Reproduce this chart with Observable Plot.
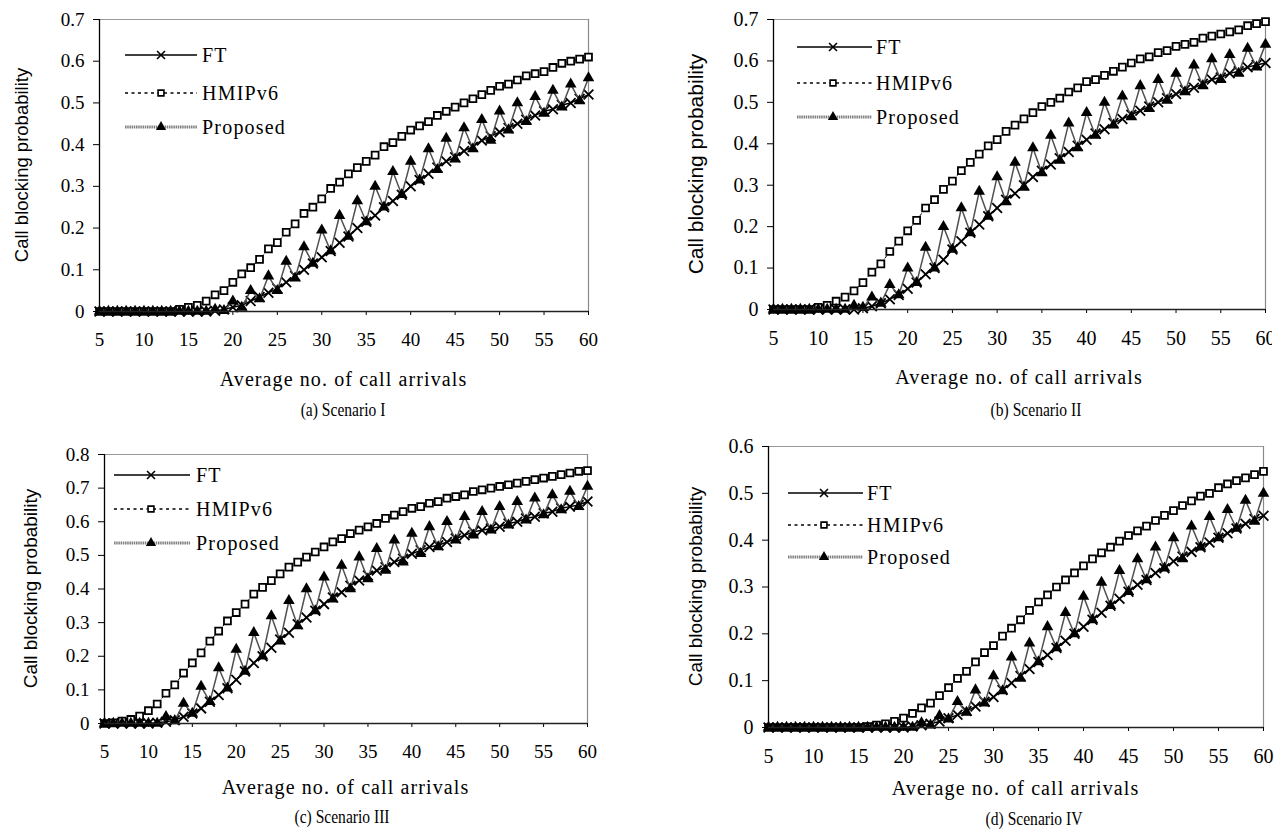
<!DOCTYPE html>
<html>
<head>
<meta charset="utf-8">
<script src="https://cdn.jsdelivr.net/npm/d3@7"></script>
<script src="https://cdn.jsdelivr.net/npm/@observablehq/plot@0.6"></script>
<style>
  html, body { margin: 0; padding: 0; background: #fff; overflow: hidden; }
  #root { position: relative; width: 1283px; height: 832px; overflow: hidden; background: #fff; }
  #edge { position: absolute; left: 1272px; top: 0; width: 11px; height: 420px; background: #fff; }
</style>
</head>
<body>
<div id="root"></div>
<script>
// ---------- DATA ----------
const arrivals = [5,6,7,8,9,10,11,12,13,14,15,16,17,18,19,20,21,22,23,24,25,26,27,28,29,30,31,32,33,34,35,36,37,38,39,40,41,42,43,44,45,46,47,48,49,50,51,52,53,54,55,56,57,58,59,60];
const xTickValues = [5,10,15,20,25,30,35,40,45,50,55,60];
const yTicks06 = [0,0.1,0.2,0.3,0.4,0.5,0.6];
const yTicks07 = [0,0.1,0.2,0.3,0.4,0.5,0.6,0.7];
const yTicks08 = [0,0.1,0.2,0.3,0.4,0.5,0.6,0.7,0.8];
const seriesNames = ["FT", "HMIPv6", "Proposed"];
const captions = ["(a) Scenario I", "(b) Scenario II", "(c) Scenario III", "(d) Scenario IV"];
const xTitle = "Average no. of call arrivals";
const yTitle = "Call blocking probability";

// Scenario I
const ftA = [0,0,0,0,0,0,0,0,0,0,0,0,0, 0.002,0.005,0.01,0.015,0.025,0.035,0.045,0.055,0.07,0.085, 0.10,0.115,0.13,0.145,0.165,0.18,0.20,0.215,0.23,0.25, 0.265,0.28,0.30,0.315,0.33,0.345,0.36,0.37,0.385,0.395, 0.41,0.42,0.43,0.44,0.45,0.46,0.47,0.48,0.485,0.495, 0.50,0.51,0.52];
const hmipA = [0,0,0,0,0,0,0,0,0, 0.005,0.01,0.015,0.025,0.04,0.05, 0.07,0.09,0.105,0.125,0.15,0.165,0.19,0.21,0.235,0.25, 0.27,0.295,0.31,0.33,0.345,0.36,0.375,0.395,0.405,0.42, 0.435,0.445,0.455,0.47,0.48,0.49,0.50,0.51,0.52,0.53, 0.54,0.545,0.555,0.565,0.57,0.575,0.585,0.595,0.60,0.605, 0.61];
const propA = [0,0,0,0,0,0,0,0,0,0,0,0,0, 0.005,0.002, 0.025,0.01,0.05,0.03,0.085,0.05,0.12,0.08,0.155,0.115, 0.195,0.145,0.23,0.18,0.265,0.215,0.30,0.25,0.335,0.28, 0.36,0.315,0.39,0.34,0.415,0.365,0.44,0.39,0.46,0.41, 0.48,0.435,0.50,0.455,0.515,0.475,0.53,0.49,0.545,0.505, 0.56];

// Scenario II
const ftB = [0,0,0,0,0,0,0,0,0,0, 0.003,0.008,0.015,0.025,0.035, 0.05,0.065,0.085,0.10,0.12,0.145,0.165,0.185,0.205,0.225, 0.245,0.265,0.28,0.30,0.32,0.335,0.35,0.365,0.38,0.395, 0.41,0.425,0.435,0.45,0.46,0.47,0.48,0.49,0.50,0.51, 0.52,0.53,0.535,0.545,0.555,0.56,0.57,0.575,0.585,0.59, 0.595];
const hmipB = [0,0,0,0,0, 0.005,0.01,0.02,0.03,0.045,0.065,0.09,0.11,0.14,0.165, 0.19,0.215,0.245,0.265,0.29,0.31,0.335,0.355,0.375,0.395, 0.41,0.43,0.445,0.46,0.475,0.49,0.50,0.51,0.525,0.535, 0.55,0.555,0.565,0.575,0.585,0.595,0.605,0.61,0.62,0.625, 0.635,0.64,0.645,0.655,0.66,0.665,0.67,0.675,0.685,0.69, 0.695];
const propB = [0,0,0,0,0,0,0,0,0, 0.01,0.005,0.03,0.015,0.06,0.035, 0.10,0.065,0.15,0.10,0.20,0.145,0.245,0.185,0.285,0.225, 0.32,0.26,0.355,0.295,0.39,0.33,0.42,0.36,0.45,0.39, 0.475,0.42,0.50,0.445,0.515,0.465,0.54,0.485,0.555,0.505, 0.57,0.525,0.59,0.54,0.605,0.555,0.615,0.57,0.63,0.585, 0.64];

// Scenario III
const ftC = [0,0,0,0,0,0, 0.002,0.005,0.01,0.02,0.03,0.045,0.065,0.085,0.105, 0.13,0.155,0.18,0.20,0.225,0.25,0.27,0.295,0.315,0.335, 0.355,0.375,0.39,0.41,0.425,0.44,0.455,0.465,0.48,0.49, 0.505,0.515,0.525,0.53,0.54,0.55,0.56,0.57,0.575,0.58, 0.585,0.595,0.60,0.61,0.615,0.625,0.63,0.64,0.645,0.65, 0.66];
const hmipC = [0,0.002,0.007,0.012,0.022, 0.038,0.058,0.09,0.115,0.15,0.18,0.21,0.245,0.275,0.305, 0.33,0.355,0.385,0.405,0.425,0.445,0.465,0.48,0.495,0.51, 0.525,0.54,0.55,0.565,0.575,0.585,0.595,0.61,0.62,0.63, 0.64,0.645,0.655,0.66,0.67,0.675,0.68,0.69,0.695,0.70, 0.705,0.71,0.715,0.72,0.725,0.73,0.735,0.74,0.745,0.75, 0.752];
const propC = [0,0,0,0,0,0,0, 0.02,0.008,0.06,0.03,0.11,0.065,0.165,0.105, 0.22,0.155,0.27,0.20,0.32,0.245,0.365,0.29,0.40,0.335, 0.435,0.37,0.47,0.40,0.495,0.43,0.52,0.455,0.545,0.48, 0.565,0.505,0.585,0.525,0.60,0.545,0.615,0.56,0.63,0.575, 0.645,0.59,0.66,0.605,0.67,0.62,0.68,0.635,0.69,0.645, 0.705];

// Scenario IV
const ftD = [0,0,0,0,0,0,0,0,0,0,0,0,0,0,0,0, 0.002,0.005,0.008,0.013,0.02,0.027,0.035,0.045,0.055, 0.065,0.08,0.095,0.11,0.125,0.14,0.155,0.17,0.185,0.20, 0.215,0.23,0.245,0.26,0.275,0.29,0.305,0.315,0.33,0.34, 0.355,0.365,0.375,0.385,0.395,0.405,0.415,0.425,0.435,0.445, 0.452];
const hmipD = [0,0,0,0,0,0,0,0,0,0,0, 0.002,0.005,0.008,0.013, 0.02,0.03,0.042,0.052,0.068,0.085,0.105,0.12,0.14,0.16, 0.175,0.195,0.212,0.23,0.25,0.268,0.283,0.30,0.315,0.33, 0.345,0.36,0.373,0.385,0.398,0.41,0.42,0.43,0.442,0.453, 0.463,0.474,0.484,0.494,0.50,0.512,0.52,0.527,0.533,0.54, 0.547];
const propD = [0,0,0,0,0,0,0,0,0,0,0,0,0,0,0,0,0, 0.01,0.005,0.025,0.018,0.055,0.032,0.08,0.052, 0.11,0.078,0.15,0.105,0.18,0.14,0.215,0.17,0.245,0.20, 0.28,0.23,0.31,0.26,0.335,0.29,0.36,0.315,0.385,0.34, 0.405,0.36,0.43,0.385,0.45,0.405,0.465,0.425,0.485,0.44, 0.50];

// ---------- LAYOUT ----------
const panels = [
  { ox: 0,   oy: 0,   W: 641, H: 420, left: 99,  right: 588,  top: 19,  bottom: 311, yMax: 0.7, yTicks: yTicks07,
    ft: ftA, hmip: hmipA, prop: propA, caption: captions[0],
    tickFont: 19, titleFont: 18.5, titleX: 21, xLabelY: 386, capX: 343, capY: 416,
    leg: { x1: 125, x2: 197, xm: 161, xt: 202, ys: [55, 93, 127] } },
  { ox: 641, oy: 0,   W: 642, H: 420, left: 773, right: 1265, top: 19,  bottom: 309, yMax: 0.7, yTicks: yTicks07,
    ft: ftB, hmip: hmipB, prop: propB, caption: captions[1],
    tickFont: 20, titleFont: 21, titleX: 695, xLabelY: 384, capX: 1036, capY: 416,
    leg: { x1: 797, x2: 872, xm: 833, xt: 876, ys: [47, 83, 117] } },
  { ox: 0,   oy: 420, W: 641, H: 412, left: 104, right: 587,  top: 454, bottom: 723, yMax: 0.8, yTicks: yTicks08,
    ft: ftC, hmip: hmipC, prop: propC, caption: captions[2],
    tickFont: 19, titleFont: 19, titleX: 30, xLabelY: 794, capX: 342, capY: 823,
    leg: { x1: 114, x2: 190, xm: 151, xt: 196, ys: [475, 509, 543] } },
  { ox: 641, oy: 420, W: 642, H: 412, left: 768, right: 1263, top: 446, bottom: 727, yMax: 0.6, yTicks: yTicks06,
    ft: ftD, hmip: hmipD, prop: propD, caption: captions[3],
    tickFont: 20, titleFont: 19, titleX: 695, xLabelY: 795, capX: 1034, capY: 825,
    leg: { x1: 788, x2: 863, xm: 824, xt: 867, ys: [493, 525, 557] } }
];

const serif = '"Liberation Serif", "Times New Roman", serif';
const sans = '"Liberation Sans", Arial, sans-serif';
const R = { ft: 4.5, hmip: 3.9, prop: 4.3 };
const propStroke = "#505050";

const root = document.getElementById("root");

function drawPanel(p) {
  const rows = s => arrivals.map((a, i) => ({ x: a, y: s[i] }));
  const ft = rows(p.ft), hm = rows(p.hmip), pr = rows(p.prop);
  const svg = Plot.plot({
    width: p.W, height: p.H,
    marginLeft: p.left - p.ox, marginRight: p.ox + p.W - p.right,
    marginTop: p.top - p.oy, marginBottom: p.oy + p.H - p.bottom,
    style: { background: "transparent", overflow: "visible", fontFamily: serif, fontSize: p.tickFont + "px", color: "#000" },
    x: { domain: [5, 60], ticks: xTickValues, tickSize: 4, tickPadding: 17, label: null, tickFormat: d => String(d) },
    y: { domain: [0, p.yMax], ticks: p.yTicks, tickSize: 6, tickPadding: 9, label: null, tickFormat: d => d === 0 ? "0" : d.toFixed(1) },
    marks: [
      Plot.ruleY([p.yMax], { stroke: "#9a9a9a", strokeWidth: 1.2 }),
      Plot.ruleX([60], { stroke: "#8a8a8a", strokeWidth: 1.2 }),
      Plot.line(ft, { x: "x", y: "y", stroke: "#000", strokeWidth: 1.5 }),
      Plot.dot(ft, { x: "x", y: "y", symbol: "times", r: R.ft, fill: "none", stroke: "#000", strokeWidth: 1.8 }),
      Plot.line(hm, { x: "x", y: "y", stroke: "#000", strokeWidth: 1, strokeDasharray: "2.5,2.5" }),
      Plot.dot(hm, { x: "x", y: "y", symbol: "square", r: R.hmip, fill: "#fff", stroke: "#000", strokeWidth: 1.8 }),
      Plot.line(pr, { x: "x", y: "y", stroke: propStroke, strokeWidth: 1.5 }),
      Plot.dot(pr, { x: "x", y: "y", symbol: "triangle", r: R.prop, fill: "#000", stroke: "none" }),
      Plot.ruleX([5], { stroke: "#000", strokeWidth: 1.3 }),
      Plot.ruleY([0], { stroke: "#222", strokeWidth: 1.3 })
    ]
  });
  svg.setAttribute("font-family", serif);
  svg.style.position = "absolute";
  svg.style.left = p.ox + "px";
  svg.style.top = p.oy + "px";
  root.appendChild(svg);

  // force serif tick labels
  d3.select(svg).selectAll("text").style("font-family", serif).style("font-size", p.tickFont + "px");

  const g = d3.select(svg).append("g").attr("transform", `translate(${-p.ox},${-p.oy})`);
  const cx = (p.left + p.right) / 2, cy = (p.top + p.bottom) / 2;

  // y title
  g.append("text")
    .attr("transform", `translate(${p.titleX},${cy}) rotate(-90)`)
    .attr("text-anchor", "middle").attr("dominant-baseline", "central")
    .style("font-family", sans).style("font-size", p.titleFont + "px").attr("fill", "#000")
    .text(yTitle);
  // x title
  g.append("text")
    .attr("x", cx).attr("y", p.xLabelY).attr("text-anchor", "middle")
    .style("font-family", serif).style("font-size", "20px").style("letter-spacing", "1.1px").attr("fill", "#000")
    .text(xTitle);
  // caption (condensed serif)
  g.append("text")
    .attr("transform", `translate(${p.capX},${p.capY}) scale(0.82,1)`)
    .attr("text-anchor", "middle")
    .style("font-family", serif).style("font-size", "19px").attr("fill", "#000")
    .text(p.caption);

  // legend
  const L = p.leg;
  const styles = [
    { stroke: "#000", width: 1.4, dash: null, sym: d3.symbolTimes, r: 3.7, fill: "none", symStroke: "#000" },
    { stroke: "#000", width: 1.5, dash: "3,3.5", sym: d3.symbolSquare, r: 3.3, fill: "#fff", symStroke: "#000" },
    { stroke: "#808080", width: 3, dash: "1.5,0.7", sym: d3.symbolTriangle, r: 3.8, fill: "#000", symStroke: "none" }
  ];
  seriesNames.forEach((name, i) => {
    const s = styles[i], y = L.ys[i];
    const ln = g.append("line").attr("x1", L.x1).attr("x2", L.x2).attr("y1", y).attr("y2", y)
      .attr("stroke", s.stroke).attr("stroke-width", s.width);
    if (s.dash) ln.attr("stroke-dasharray", s.dash);
    g.append("path").attr("d", d3.symbol().type(s.sym).size(Math.PI * s.r * s.r)())
      .attr("transform", `translate(${L.xm},${y})`)
      .attr("fill", s.fill).attr("stroke", s.symStroke).attr("stroke-width", 1.6);
    g.append("text").attr("x", L.xt).attr("y", y)
      .attr("text-anchor", "start").attr("dominant-baseline", "central")
      .style("font-family", serif).style("font-size", "20px").style("letter-spacing", "1.2px").attr("fill", "#000")
      .text(name);
  });
}

panels.forEach(drawPanel);

// the reference figure is cropped at its right edge, cutting the last tick label of panel (b)
const edge = document.createElement("div");
edge.id = "edge";
root.appendChild(edge);
</script>
</body>
</html>
